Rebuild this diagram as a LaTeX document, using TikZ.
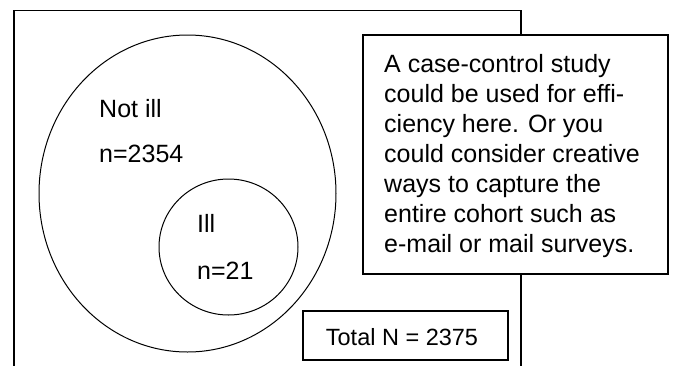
\documentclass[tikz,border=0pt]{standalone}
\usepackage{fontspec}
\setmainfont{Liberation Sans}
\begin{document}
\begin{tikzpicture}[x=1pt,y=-1pt,
  frame/.style={line width=1.3pt},
  ring/.style={line width=1pt},
  lbl/.style={anchor=base west,inner sep=0pt,font=\fontsize{25}{30}\selectfont}]
\useasboundingbox (0,0) rectangle (673,365);
% outer frame (open at the bottom)
\coordinate (fbl) at (14,366);
\coordinate (ftl) at (14,10.5);
\coordinate (ftr) at (521,10.5);
\coordinate (fbr) at (521,366);
\draw[frame] (fbl) -- (ftl) -- (ftr) -- (fbr);
% populations
\coordinate (bigc) at (187.5,193.5);
\draw[ring] (bigc) ellipse [x radius=148.5, y radius=158.5];
\coordinate (smallc) at (228.5,247);
\draw[ring,fill=white] (smallc) ellipse [x radius=69.5, y radius=68];
\node[lbl] (notill) at (99,117) {Not ill};
\node[lbl] (nnot) at (99,162) {n=2354};
\node[lbl] (ill) at (197,232) {Ill};
\node[lbl] (nill) at (197,279) {n=21};
% note box
\draw[frame,fill=white] (363,35) rectangle (668,274);
\node[anchor=north west,inner sep=0pt,align=left,
      font=\fontsize{25}{30}\selectfont] (note) at (384,54)
  {A case-control study\\could be used for effi-\\ciency here. Or you\\could consider creative\\ways to capture the\\entire cohort such as\\e-mail or mail surveys.};
% total box
\draw[frame,fill=white] (303,311) rectangle (508,360);
\node[inner sep=0pt,font=\fontsize{23.5}{28}\selectfont] (total) at (402,337) {Total N = 2375};
\end{tikzpicture}
\end{document}
